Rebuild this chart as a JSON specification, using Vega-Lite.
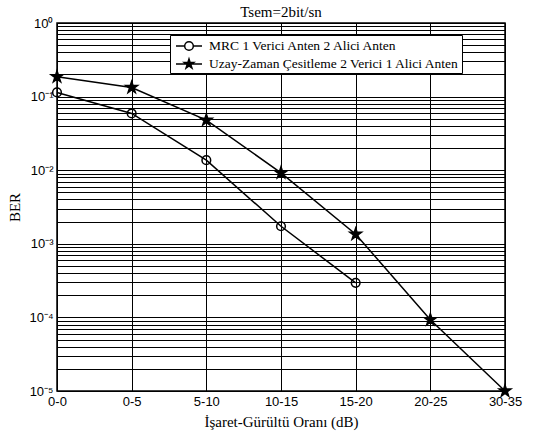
{
  "$schema": "https://vega.github.io/schema/vega-lite/v6.json",
  "width": 448,
  "height": 368,
  "autosize": {"type": "none"},
  "padding": {"left": 57, "top": 23, "right": 34, "bottom": 43},
  "background": "white",
  "config": {
    "view": {"stroke": "black", "strokeWidth": 1.5},
    "axis": {
      "grid": true, "gridColor": "black", "gridOpacity": 1, "gridWidth": 1,
      "ticks": false, "domain": false,
      "labelFont": "Liberation Sans", "labelFontSize": 13, "labelColor": "black",
      "titleFont": "Liberation Serif", "titleFontSize": 15, "titleFontWeight": "normal", "titleColor": "black"
    }
  },
  "title": {
    "text": "Tsem=2bit/sn",
    "font": "Liberation Serif", "fontSize": 15, "fontWeight": "normal", "color": "black",
    "anchor": "middle", "offset": -3
  },
  "data": {
    "values": [
      {"snr": "0-0", "ber": 0.114, "series": "MRC 1 Verici Anten 2 Alici Anten"},
      {"snr": "0-5", "ber": 0.059, "series": "MRC 1 Verici Anten 2 Alici Anten"},
      {"snr": "5-10", "ber": 0.0137, "series": "MRC 1 Verici Anten 2 Alici Anten"},
      {"snr": "10-15", "ber": 0.00173, "series": "MRC 1 Verici Anten 2 Alici Anten"},
      {"snr": "15-20", "ber": 0.000295, "series": "MRC 1 Verici Anten 2 Alici Anten"},
      {"snr": "0-0", "ber": 0.186, "series": "Uzay-Zaman Çesitleme 2 Verici 1 Alici Anten"},
      {"snr": "0-5", "ber": 0.133, "series": "Uzay-Zaman Çesitleme 2 Verici 1 Alici Anten"},
      {"snr": "5-10", "ber": 0.048, "series": "Uzay-Zaman Çesitleme 2 Verici 1 Alici Anten"},
      {"snr": "10-15", "ber": 0.0092, "series": "Uzay-Zaman Çesitleme 2 Verici 1 Alici Anten"},
      {"snr": "15-20", "ber": 0.00135, "series": "Uzay-Zaman Çesitleme 2 Verici 1 Alici Anten"},
      {"snr": "20-25", "ber": 0.000093, "series": "Uzay-Zaman Çesitleme 2 Verici 1 Alici Anten"},
      {"snr": "30-35", "ber": 0.00001, "series": "Uzay-Zaman Çesitleme 2 Verici 1 Alici Anten"}
    ]
  },
  "encoding": {
    "x": {
      "field": "snr", "type": "ordinal",
      "scale": {"type": "point", "padding": 0, "domain": ["0-0", "0-5", "5-10", "10-15", "15-20", "20-25", "30-35"]},
      "axis": {"title": "İşaret-Gürültü Oranı (dB)", "labelAngle": 0, "labelPadding": 4, "titlePadding": 6}
    },
    "y": {
      "field": "ber", "type": "quantitative",
      "scale": {"type": "log", "domain": [0.00001, 1], "nice": false},
      "axis": {
        "title": "BER", "titlePadding": 6, "labelPadding": 4, "labelOverlap": false, "labelBound": false,
        "values": [0.00001, 0.00002, 0.00003, 0.00004, 0.00005, 0.00006, 0.00007, 0.00008, 0.00009,
                   0.0001, 0.0002, 0.0003, 0.0004, 0.0005, 0.0006, 0.0007, 0.0008, 0.0009,
                   0.001, 0.002, 0.003, 0.004, 0.005, 0.006, 0.007, 0.008, 0.009,
                   0.01, 0.02, 0.03, 0.04, 0.05, 0.06, 0.07, 0.08, 0.09,
                   0.1, 0.2, 0.3, 0.4, 0.5, 0.6, 0.7, 0.8, 0.9, 1],
        "labelExpr": "abs(log(datum.value)/LN10 - round(log(datum.value)/LN10)) < 0.01 ? '10' + ['⁰','⁻¹','⁻²','⁻³','⁻⁴','⁻⁵'][-round(log(datum.value)/LN10)] : ''"
      }
    }
  },
  "layer": [
    {
      "mark": {"type": "line", "color": "black", "strokeWidth": 1.5},
      "encoding": {"detail": {"field": "series"}}
    },
    {
      "mark": {"type": "point", "stroke": "black", "strokeWidth": 1.5, "filled": false},
      "encoding": {
        "shape": {
          "condition": {"test": "datum.series == 'MRC 1 Verici Anten 2 Alici Anten'", "value": "circle"},
          "value": "M0,-1L0.225,-0.309L0.951,-0.309L0.363,0.118L0.588,0.809L0,0.382L-0.588,0.809L-0.363,0.118L-0.951,-0.309L-0.225,-0.309Z"
        },
        "opacity": {
          "field": "series", "type": "nominal",
          "scale": {
            "domain": ["MRC 1 Verici Anten 2 Alici Anten", "Uzay-Zaman Çesitleme 2 Verici 1 Alici Anten"],
            "range": [1, 1]
          },
          "legend": {
            "orient": "none", "legendX": 113, "legendY": 12, "title": null,
            "strokeColor": "black", "fillColor": "white", "padding": 2,
            "labelFont": "Liberation Serif", "labelFontSize": 13.5, "labelColor": "black",
            "labelOffset": 11, "symbolOffset": 8, "rowPadding": 1, "symbolSize": 256, "labelLimit": 460,
            "symbolStrokeWidth": 1.5, "symbolStrokeColor": "black",
            "labelExpr": "datum.label + '\u00a0\u00a0\u00a0\u00a0\u00a0\u00a0\u00a0\u00a0\u00a0\u00a0\u00a0\u00a0\u00a0\u00a0\u00a0\u00a0\u00a0'",
            "encoding": {
              "symbols": {
                "size": {"value": 256},
                "stroke": {"value": "black"},
                "strokeWidth": {"value": 1.5},
                "opacity": {"value": 1},
                "shape": {
                  "condition": {"test": "datum.value == 'MRC 1 Verici Anten 2 Alici Anten'", "value": "M-1.625,0L-0.54,0M0.54,0L1.625,0M-0.54,0A0.54,0.54 0 1,1 0.54,0A0.54,0.54 0 1,1 -0.54,0"},
                  "value": "M-1.625,0L1.625,0M0,-0.62L0.138,-0.19L0.587,-0.19L0.224,0.073L0.363,0.5L0,0.236L-0.363,0.5L-0.224,0.073L-0.587,-0.19L-0.138,-0.19Z"
                },
                "fill": {
                  "condition": {"test": "datum.value == 'MRC 1 Verici Anten 2 Alici Anten'", "value": "transparent"},
                  "value": "black"
                }
              }
            }
          }
        },
        "size": {
          "condition": {"test": "datum.series == 'MRC 1 Verici Anten 2 Alici Anten'", "value": 75},
          "value": 150
        },
        "fill": {
          "condition": {"test": "datum.series == 'MRC 1 Verici Anten 2 Alici Anten'", "value": "transparent"},
          "value": "black"
        }
      }
    }
  ]
}
